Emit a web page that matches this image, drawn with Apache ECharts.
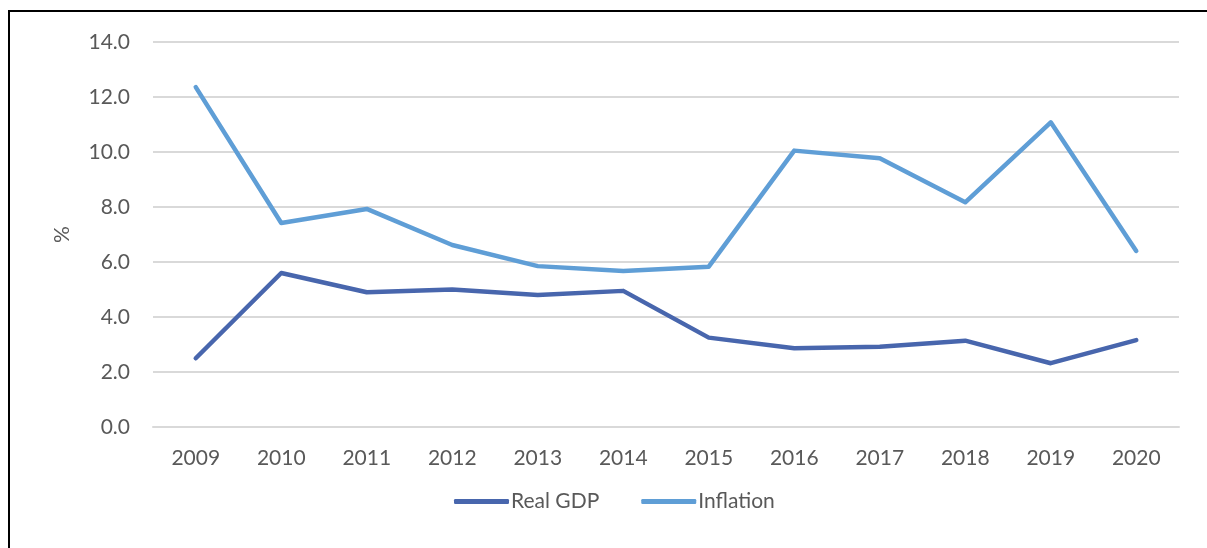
<!DOCTYPE html>
<html>
<head>
<meta charset="utf-8">
<script src="https://cdn.jsdelivr.net/npm/echarts@6/dist/echarts.min.js"></script>
<style>html,body{margin:0;padding:0;background:#fff}#c{width:1207px;height:548px}</style>
</head>
<body>
<div id="c"></div>
<script>
const years = ['2009','2010','2011','2012','2013','2014','2015','2016','2017','2018','2019','2020'];
const realGDP = [2.5, 5.6, 4.9, 5.0, 4.8, 4.95, 3.25, 2.86, 2.92, 3.14, 2.32, 3.16];
const inflation = [12.36, 7.42, 7.93, 6.62, 5.85, 5.67, 5.83, 10.05, 9.77, 8.17, 11.08, 6.4];
const seriesNames = ['Real GDP', 'Inflation'];
const FONT = 'Lato, "Open Sans", sans-serif';
const chart = echarts.init(document.getElementById('c'), null, {renderer: 'canvas'});
chart.setOption({
  animation: false,
  backgroundColor: '#fff',
  graphic: [{
    type: 'rect', silent: true, z: -1,
    shape: {x: 9, y: 11, width: 1260, height: 600},
    style: {fill: 'none', stroke: '#000', lineWidth: 2}
  }],
  grid: {left: 153, right: 28, top: 42, bottom: 121, containLabel: false},
  legend: {
    top: 491, left: 454, padding: 0,
    itemWidth: 55, itemHeight: 5, itemGap: 42, icon: 'roundRect',
    textStyle: {fontFamily: FONT, fontSize: 21, color: '#595959', padding: [0,0,0,-3]},
    data: seriesNames
  },
  xAxis: {
    type: 'category', data: years, boundaryGap: true,
    axisLine: {lineStyle: {color: '#d9d9d9', width: 2}},
    axisTick: {show: false},
    axisLabel: {fontFamily: FONT, fontSize: 21, color: '#595959', margin: 21}
  },
  yAxis: {
    type: 'value', min: 0, max: 14, interval: 2,
    name: '%', nameLocation: 'middle', nameGap: 80, nameRotate: 90,
    nameTextStyle: {fontFamily: FONT, fontSize: 21, color: '#595959'},
    axisLine: {show: false}, axisTick: {show: false},
    splitLine: {lineStyle: {color: '#d9d9d9', width: 2}},
    axisLabel: {fontFamily: FONT, fontSize: 21, color: '#595959', margin: 23,
      formatter: v => v.toFixed(1)}
  },
  series: [
    {name: seriesNames[0], type: 'line', data: realGDP, showSymbol: false, symbol: 'none',
     color: '#4866AD', lineStyle: {width: 4.5, color: '#4866AD', cap: 'round', join: 'round'}},
    {name: seriesNames[1], type: 'line', data: inflation, showSymbol: false, symbol: 'none',
     color: '#5F9ED6', lineStyle: {width: 4.5, color: '#5F9ED6', cap: 'round', join: 'round'}}
  ]
});
</script>
</body>
</html>
